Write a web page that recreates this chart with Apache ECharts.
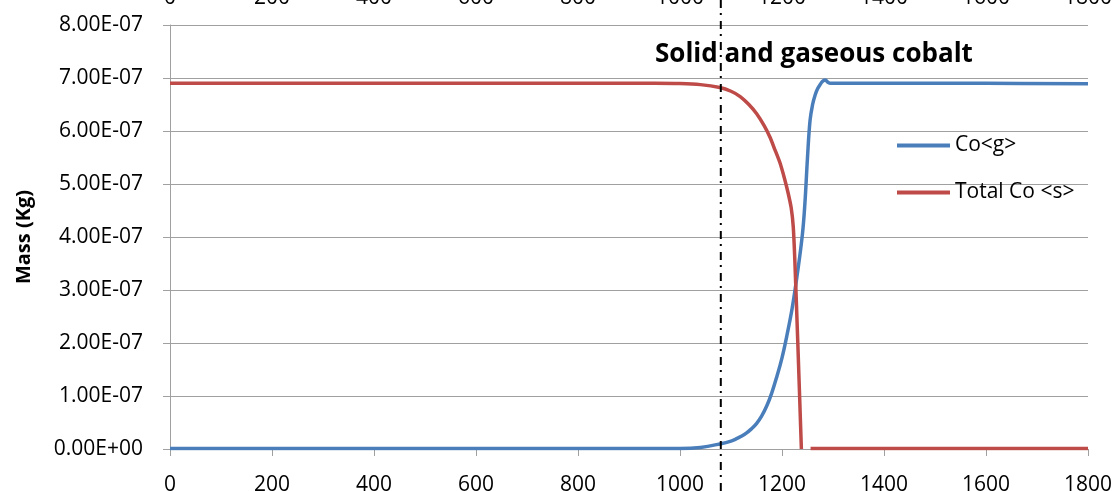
<!DOCTYPE html>
<html>
<head>
<meta charset="utf-8">
<script src="https://cdn.jsdelivr.net/npm/echarts@6/dist/echarts.min.js"></script>
<style>html,body{margin:0;padding:0;background:#fff;}#c{width:1114px;height:491px;}</style>
</head>
<body>
<div id="c"></div>
<script>
// ---- data ----
const xMin = 0, xMax = 1800, xStep = 200;
const yMin = 0, yMax = 8e-7, yStep = 1e-7;
const markerTemp = 1080;
const titleText = 'Solid and gaseous cobalt';
const seriesNames = ['Co<g>', 'Total Co <s>'];

const gasX = [0,200,400,600,800,1000,1040,1080,1100,1110,1120,1130,1140,1150,1160,1170,1180,1190,1200,1210,1220,1230,1240,1245,1250,1255,1260,1265,1270,1275,1280,1285,1290,1295,1400,1600,1800];
const gasY = [0.01e-7,0.01e-7,0.01e-7,0.01e-7,0.01e-7,0.01e-7,0.03e-7,0.1e-7,0.15e-7,0.19e-7,0.24e-7,0.30e-7,0.38e-7,0.48e-7,0.62e-7,0.81e-7,1.06e-7,1.37e-7,1.72e-7,2.16e-7,2.66e-7,3.3e-7,4.05e-7,4.65e-7,5.5e-7,6.2e-7,6.5e-7,6.68e-7,6.8e-7,6.88e-7,6.94e-7,6.96e-7,6.92e-7,6.9e-7,6.9e-7,6.9e-7,6.89e-7];

const solidX = [0,200,400,600,800,950,1000,1040,1078,1100,1118,1135,1150,1165,1176,1186,1196,1205,1212,1218,1222,1225,1231,1238,1248,1256,1400,1600,1800];
const solidY = [6.9e-7,6.9e-7,6.9e-7,6.9e-7,6.9e-7,6.9e-7,6.895e-7,6.875e-7,6.82e-7,6.75e-7,6.65e-7,6.5e-7,6.33e-7,6.1e-7,5.89e-7,5.65e-7,5.40e-7,5.1e-7,4.83e-7,4.55e-7,4.2e-7,3.6e-7,2.0e-7,0,null,0.01e-7,0.01e-7,0.01e-7,0.01e-7];

// ---- chart ----
function sci(v){
  if (Math.abs(v) < 1e-20) return '0.00E+00';
  let e = Math.floor(Math.log10(Math.abs(v)) + 1e-9);
  let m = v / Math.pow(10, e);
  if (Math.abs(m) >= 9.995) { e += 1; m = v / Math.pow(10, e); }
  return m.toFixed(2) + 'E' + (e < 0 ? '-' : '+') + String(Math.abs(e)).padStart(2, '0');
}
const plain = v => String(Math.round(v));
const pair = (xs, ys) => xs.map((x, i) => [x, ys[i]]);
const FONT = 'Open Sans';
const chart = echarts.init(document.getElementById('c'), null, {renderer: 'canvas'});
chart.setOption({
  animation: false,
  backgroundColor: '#fff',
  textStyle: {fontFamily: FONT},
  grid: {left: 170, right: 26, top: 25, bottom: 42, containLabel: false, outerBoundsMode: 'none'},
  title: {
    text: titleText, left: 650, top: 37,
    textStyle: {fontFamily: FONT, fontSize: 26, fontWeight: 'bold', color: '#000'}
  },
  legend: {
    orient: 'vertical', left: 892, top: 130, itemGap: 26,
    itemWidth: 53, itemHeight: 4, icon: 'rect',
    textStyle: {fontFamily: FONT, fontSize: 21, color: '#000'},
    data: seriesNames
  },
  xAxis: [{
    type: 'value', position: 'bottom', min: xMin, max: xMax, interval: xStep,
    axisLine: {show: true, onZero: false, lineStyle: {color: '#A0A0A0', width: 1}},
    axisTick: {show: true, length: 7, lineStyle: {color: '#A0A0A0'}},
    axisLabel: {margin: 26, fontSize: 21, color: '#000', fontFamily: FONT, formatter: plain},
    splitLine: {show: false}
  }, {
    type: 'value', position: 'top', min: xMin, max: xMax, interval: xStep,
    axisLine: {show: false}, axisTick: {show: false},
    axisLabel: {margin: 16, fontSize: 21, color: '#000', fontFamily: FONT, formatter: plain},
    splitLine: {show: false}
  }],
  yAxis: {
    type: 'value', min: yMin, max: yMax, interval: yStep,
    name: 'Mass (Kg)', nameLocation: 'middle', nameGap: 136, nameRotate: 90,
    nameTextStyle: {fontFamily: FONT, fontSize: 20, fontWeight: 'bold', color: '#000'},
    axisLine: {show: true, lineStyle: {color: '#A0A0A0', width: 1}},
    axisTick: {show: true, length: 7, lineStyle: {color: '#A0A0A0'}},
    axisLabel: {margin: 27, fontSize: 21, color: '#000', fontFamily: FONT, formatter: sci},
    splitLine: {show: true, lineStyle: {color: '#A0A0A0', width: 1}}
  },
  series: [{
    name: seriesNames[0], type: 'line', xAxisIndex: 0, data: pair(gasX, gasY),
    symbol: 'none', smooth: 0.4, smoothConstraint: false,
    lineStyle: {color: '#4A7EBB', width: 3.5}, itemStyle: {color: '#4A7EBB'}
  }, {
    name: seriesNames[1], type: 'line', xAxisIndex: 0, data: pair(solidX, solidY),
    symbol: 'none', smooth: 0.25,
    lineStyle: {color: '#BE4B48', width: 3.5}, itemStyle: {color: '#BE4B48'}
  }]
});
const px = chart.convertToPixel({xAxisIndex: 0}, markerTemp);
chart.setOption({
  graphic: [{
    type: 'line', z: 100,
    shape: {x1: px, y1: 0, x2: px, y2: chart.getHeight()},
    style: {stroke: '#000', lineWidth: 2, lineDash: [8, 5, 2, 6]}
  }]
});
</script>
</body>
</html>
